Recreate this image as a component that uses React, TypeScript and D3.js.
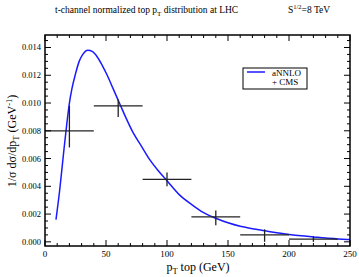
import React from "react";
import * as d3 from "d3";

const curvePt = [9, 12, 15, 18, 20, 22, 25, 28, 31, 35, 39, 43, 47, 51, 56, 61, 66, 72, 79, 86, 93, 100, 110, 120, 130, 140, 150, 160, 170, 180, 190, 200, 210, 220, 230, 240, 250];
const curveVal = [0.0016, 0.0037, 0.0062, 0.0086, 0.0100, 0.0110, 0.0121, 0.0130, 0.0135, 0.0138, 0.0137, 0.0133, 0.0127, 0.0120, 0.0110, 0.0100, 0.0090, 0.0079, 0.0069, 0.0059, 0.0051, 0.0044, 0.0034, 0.0027, 0.0021, 0.0017, 0.00137, 0.00112, 0.00095, 0.0008, 0.00065, 0.00053, 0.00043, 0.00035, 0.00027, 0.00021, 0.00016];

const dataPt = [20, 60, 100, 140, 180, 220];
const dataLo = [0, 40, 80, 120, 160, 200];
const dataHi = [40, 80, 120, 160, 200, 240];
const dataVal = [0.0080, 0.0098, 0.0045, 0.0018, 0.0005, 0.0002];
const dataErrUp = [0.0018, 0.00045, 0.0005, 0.00045, 0.0004, 0.0002];
const dataErrDn = [0.0012, 0.0008, 0.0005, 0.0006, 0.0005, 0.0002];

const xMajor = [0, 50, 100, 150, 200, 250];
const yMajor = [0, 0.002, 0.004, 0.006, 0.008, 0.01, 0.012, 0.014];

const W = 359, H = 277;
const L = 45, R = 350, T = 35, B = 246;

export default function App() {
  const x = d3.scaleLinear().domain([0, 250]).range([L, R]);
  const y = d3.scaleLinear().domain([-0.0003, 0.0149]).range([B, T]);
  const line = d3.line<number>().x((_, i) => x(curvePt[i])).y((v) => y(v)).curve(d3.curveMonotoneX);
  const xMinor = d3.range(0, 251, 10).filter((v) => v % 50 !== 0);
  const yMinor = d3.range(0, 30).map((i) => i * 0.0005).filter((v) => v <= 0.0149 && Math.round(v * 10000) % 20 !== 0);
  const font = "'Liberation Serif', 'DejaVu Serif', serif";
  const maj = 6, mnr = 3;
  return (
    <svg width={W} height={H} style={{ position: "absolute", left: 0, top: 0, background: "#fff" }} fontFamily={font}>
      <rect x={0} y={0} width={W} height={H} fill="#fff" />
      <text x={55} y={13} fontSize={9.5} fill="#000">
        t-channel normalized top p<tspan fontSize={7} dy={2.5}>T</tspan>
        <tspan dy={-2.5}> distribution at LHC</tspan>
      </text>
      <text x={288} y={13} fontSize={9.5} fill="#000">
        S<tspan fontSize={6.5} dy={-4}>1/2</tspan>
        <tspan dy={4}>=8 TeV</tspan>
      </text>
      {/* curve */}
      <path d={line(curveVal) || ""} fill="none" stroke="#1a1aff" strokeWidth={1.5} />
      {/* data */}
      {dataPt.map((p, i) => (
        <g key={i} stroke="#222" strokeWidth={1.3}>
          <line x1={x(dataLo[i])} x2={x(dataHi[i])} y1={y(dataVal[i])} y2={y(dataVal[i])} />
          <line x1={x(p)} x2={x(p)} y1={y(dataVal[i] + dataErrUp[i])} y2={y(dataVal[i] - dataErrDn[i])} />
        </g>
      ))}
      {/* frame */}
      <rect x={L} y={T} width={R - L} height={B - T} fill="none" stroke="#000" strokeWidth={1.5} />
      {/* x ticks */}
      {xMajor.map((v) => (
        <g key={"xm" + v} stroke="#000" strokeWidth={1}>
          <line x1={x(v)} x2={x(v)} y1={B} y2={B - maj} />
          <line x1={x(v)} x2={x(v)} y1={T} y2={T + maj} />
        </g>
      ))}
      {xMinor.map((v) => (
        <g key={"xn" + v} stroke="#000" strokeWidth={1}>
          <line x1={x(v)} x2={x(v)} y1={B} y2={B - mnr} />
          <line x1={x(v)} x2={x(v)} y1={T} y2={T + mnr} />
        </g>
      ))}
      {xMajor.map((v) => (
        <text key={"xl" + v} x={x(v)} y={257} fontSize={9} textAnchor="middle" fill="#000">{v}</text>
      ))}
      {/* y ticks */}
      {yMajor.map((v) => (
        <g key={"ym" + v} stroke="#000" strokeWidth={1}>
          <line x1={L} x2={L + maj} y1={y(v)} y2={y(v)} />
          <line x1={R} x2={R - maj} y1={y(v)} y2={y(v)} />
        </g>
      ))}
      {yMinor.map((v) => (
        <g key={"yn" + v} stroke="#000" strokeWidth={1}>
          <line x1={L} x2={L + mnr} y1={y(v)} y2={y(v)} />
          <line x1={R} x2={R - mnr} y1={y(v)} y2={y(v)} />
        </g>
      ))}
      {yMajor.map((v) => (
        <text key={"yl" + v} x={41} y={y(v) + 3} fontSize={8.5} textAnchor="end" fill="#000">{v.toFixed(3)}</text>
      ))}
      {/* axis labels */}
      <text x={198} y={271} fontSize={12} textAnchor="middle" fill="#000">
        p<tspan fontSize={8.5} dy={3}>T</tspan>
        <tspan dy={-3}>  top (GeV)</tspan>
      </text>
      <text transform="translate(16,141) rotate(-90)" fontSize={12} textAnchor="middle" fill="#000">
        1/σ  dσ/dp<tspan fontSize={8.5} dy={3}>T</tspan>
        <tspan dy={-3}> (GeV</tspan>
        <tspan fontSize={8.5} dy={-4}>-1</tspan>
        <tspan dy={4}>)</tspan>
      </text>
      {/* legend */}
      <rect x={243} y={68} width={64} height={21} fill="#fff" stroke="#000" strokeWidth={1} />
      <line x1={247} x2={265} y1={72} y2={72} stroke="#1a1aff" strokeWidth={1.5} />
      <text x={272} y={75.5} fontSize={9} fill="#000">aNNLO</text>
      <text x={272} y={85} fontSize={9} fill="#000">+ CMS</text>
    </svg>
  );
}
